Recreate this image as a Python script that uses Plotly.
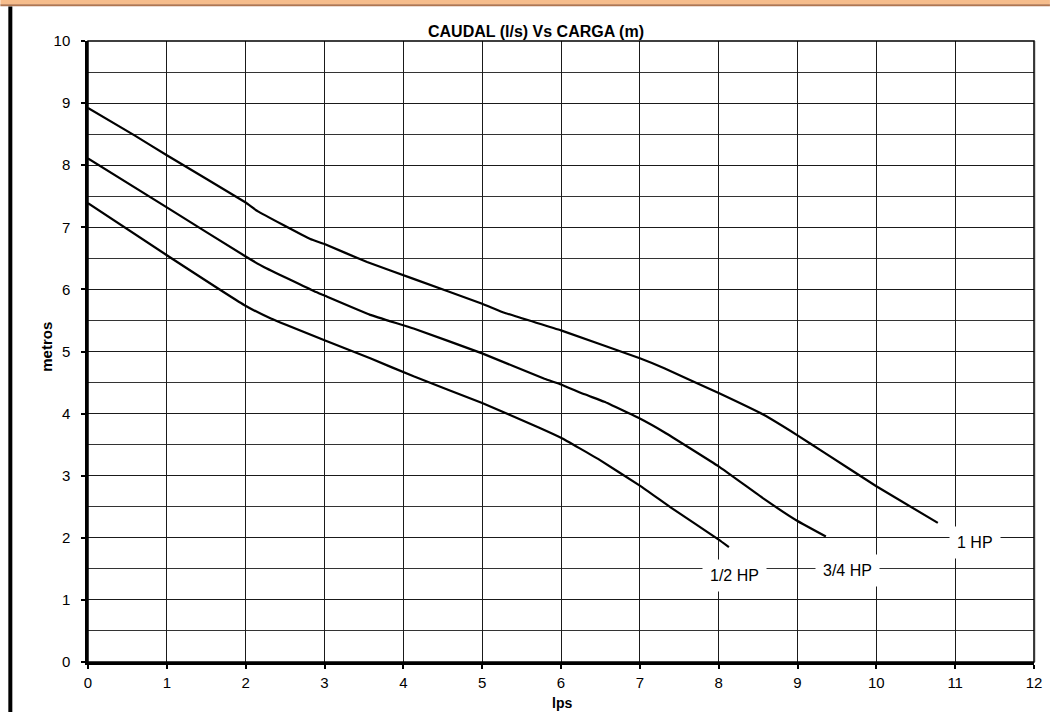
import plotly.graph_objects as go

# Caudal (l/s) vs carga (m)
x_half = [0, 1, 1.98, 2.32, 3, 3.58, 4.13, 5, 5.71, 6, 6.47, 7, 7.39, 8, 8.13]
y_half = [7.39, 6.55, 5.75, 5.53, 5.18, 4.89, 4.60, 4.17, 3.78, 3.61, 3.27, 2.84, 2.49, 1.97, 1.85]

x_34 = [0, 1, 2, 2.23, 2.87, 3, 3.58, 4.13, 5, 5.79, 6, 6.3, 6.55, 7, 7.31, 8, 8.57, 9, 9.36]
y_34 = [8.11, 7.32, 6.53, 6.36, 5.97, 5.90, 5.59, 5.37, 4.97, 4.56, 4.47, 4.31, 4.19, 3.92, 3.70, 3.15, 2.63, 2.27, 2.02]

x_1 = [0, 0.59, 1, 2, 2.15, 2.82, 3, 3.54, 4.13, 5, 5.29, 6, 7, 7.31, 8, 8.57, 9, 9.33, 10, 10.78]
y_1 = [8.92, 8.48, 8.16, 7.40, 7.26, 6.81, 6.73, 6.44, 6.17, 5.77, 5.62, 5.34, 4.89, 4.73, 4.33, 3.98, 3.65, 3.38, 2.83, 2.24]

labels = ["1/2 HP", "3/4 HP", "1 HP"]
label_x = [8.2, 9.63, 11.25]
label_y = [1.40, 1.48, 1.92]

FONT = "Liberation Sans, Arial, sans-serif"

fig = go.Figure()
for xs, ys in [(x_half, y_half), (x_34, y_34), (x_1, y_1)]:
    fig.add_trace(go.Scatter(x=xs, y=ys, mode="lines",
                             line=dict(color="black", width=2.2, shape="spline", smoothing=0.3),
                             showlegend=False, hoverinfo="skip"))

for t, lx, ly in zip(labels, label_x, label_y):
    fig.add_annotation(x=lx, y=ly, text=t, showarrow=False, bgcolor="white",
                       font=dict(family=FONT, size=16, color="black"), borderpad=7)

L, R, T, B = 88, 16, 41, 50
W, H = 1054, 712
pw, ph = W - L - R, H - T - B


def px(xp):
    return (xp - L) / pw


def py(yp):
    return (H - B - yp) / ph


fig.add_annotation(xref="paper", yref="paper", x=px(35), y=py(347), text="<b>metros</b>",
                   textangle=-90, showarrow=False, font=dict(family=FONT, size=15, color="black"))
fig.add_annotation(xref="paper", yref="paper", x=px(564), y=py(703), yanchor="middle", text="<b>lps</b>",
                   showarrow=False, font=dict(family=FONT, size=14, color="black"))

shapes = [
    dict(type="rect", xref="paper", yref="paper", x0=px(0), x1=px(W), y0=py(4.5), y1=py(-2),
         fillcolor="#F6BD8C", line=dict(width=0), layer="above"),
    dict(type="line", xref="paper", yref="paper", x0=px(0), x1=px(W), y0=py(5.2), y1=py(5.2),
         line=dict(color="#B07650", width=2), layer="above"),
    dict(type="line", xref="paper", yref="paper", x0=px(10), x1=px(10), y0=py(6.5), y1=py(H + 2),
         line=dict(color="black", width=4), layer="above"),
    dict(type="line", xref="paper", yref="paper", x0=px(W - 15), x1=px(W - 15), y0=py(41), y1=py(662),
         line=dict(color="#C8C8C8", width=1.5), layer="above"),
    dict(type="rect", xref="paper", yref="paper", x0=0, x1=1, y0=0, y1=1,
         line=dict(color="black", width=1.5), layer="above"),
]

tickfont = dict(family=FONT, size=15, color="black")

fig.update_layout(
    width=W, height=H,
    margin=dict(l=L, r=R, t=T, b=B),
    paper_bgcolor="white", plot_bgcolor="white",
    font=dict(family=FONT, size=15, color="black"),
    title=dict(text="<b>CAUDAL (l/s) Vs CARGA (m)</b>", xref="container", x=536 / W, xanchor="center",
               y=1 - 31 / H, yanchor="middle", font=dict(size=16, family=FONT)),
    shapes=shapes,
    xaxis=dict(range=[0, 12], dtick=1, tick0=0, showgrid=True, gridcolor="#1a1a1a", gridwidth=1,
               showline=True, linecolor="black", linewidth=2.5, ticks="outside", ticklen=4, tickwidth=2,
               tickcolor="black", zeroline=False, fixedrange=True, ticklabelstandoff=1, tickfont=tickfont),
    yaxis=dict(range=[0, 10], dtick=1, tick0=0, showgrid=True, gridcolor="#1a1a1a", gridwidth=1,
               minor=dict(dtick=0.5, showgrid=True, gridcolor="#333333", gridwidth=1),
               showline=True, linecolor="black", linewidth=2.5, ticks="outside", ticklen=4, tickwidth=2,
               tickcolor="black", zeroline=False, fixedrange=True, ticklabelstandoff=8, tickfont=tickfont),
)

fig.write_html("out.html", config={"displayModeBar": False},
               post_script="document.body.style.margin='0px';document.body.style.overflow='hidden';")
